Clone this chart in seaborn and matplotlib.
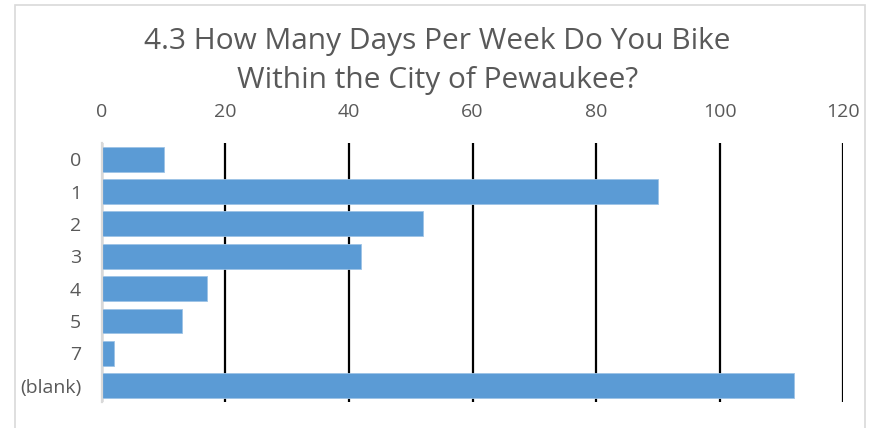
import numpy as np
import pandas as pd
import seaborn as sns
import matplotlib.pyplot as plt
from matplotlib.patches import Rectangle

# survey answers (days per week) and response counts
days = ['0', '1', '2', '3', '4', '5', '7', '(blank)']
counts = [10, 90, 52, 42, 17, 13, 2, 112]
x_ticks = [0, 20, 40, 60, 80, 100, 120]
title = '4.3 How Many Days Per Week Do You Bike\nWithin the City of Pewaukee?'

sns.set_style('white')
plt.rcParams['font.family'] = ['Open Sans', 'DejaVu Sans']

df = pd.DataFrame({'days': days, 'count': counts})

fig = plt.figure(figsize=(8.71, 4.28), dpi=100)
ax = fig.add_axes([0.117, 0.061, 0.851, 0.605])

sns.barplot(data=df, x='count', y='days', order=days, orient='h',
            color='#5B9BD5', saturation=1, width=0.77,
            edgecolor='#9DC3E6', linewidth=0.6, ax=ax, zorder=3)

ax.set_xlim(0, 120)
ax.set_xticks(x_ticks)
ax.xaxis.tick_top()
ax.set_xlabel('')
ax.set_ylabel('')
ax.tick_params(axis='both', length=0, labelsize=14, colors='#595959')
ax.tick_params(axis='x', pad=16)
ax.tick_params(axis='y', pad=15)

ax.grid(axis='x', color='black', linewidth=1.6)
ax.set_axisbelow(True)
for s in ['top', 'right', 'bottom']:
    ax.spines[s].set_visible(False)
ax.spines['left'].set_color('#D9D9D9')
ax.spines['left'].set_linewidth(1.6)
ax.spines['left'].set_zorder(4)

fig.text(0.502, 0.857, title, ha='center', va='center', fontsize=21.5,
         color='#595959', linespacing=1.45)

# light chart border
fig.patches.append(Rectangle((15 / 871, -0.1), 850 / 871, 1.1 - 5 / 428,
                             transform=fig.transFigure, fill=False,
                             edgecolor='#D9D9D9', linewidth=1.2))

fig.savefig('out.png', dpi=100)
